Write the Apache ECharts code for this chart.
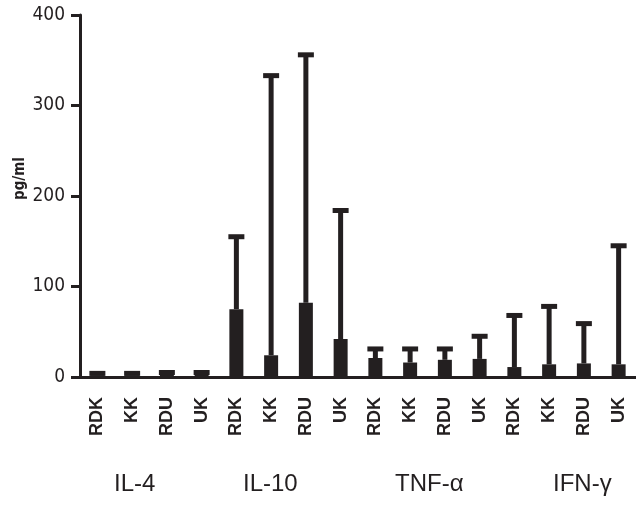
<!DOCTYPE html>
<html><head><meta charset="utf-8">
<script src="https://cdn.jsdelivr.net/npm/echarts@6/dist/echarts.min.js"></script>
<style>html,body{margin:0;padding:0;background:#fff}#c{width:636px;height:506px}</style>
</head><body><div id="c"></div>
<script>
const categories = ['RDK','KK','RDU','UK','RDK','KK','RDU','UK','RDK','KK','RDU','UK','RDK','KK','RDU','UK'];
const groups = ['IL-4','IL-10','TNF-\u03b1','IFN-\u03b3'];
const means = [2,2,3,3, 75,24,82,42, 21,16,19,20, 11,14,15,14];
const upper = [4,4,5,5, 155,333,356,184, 31,31,31,45, 68,78,59,145];
const yTicks = [0,100,200,300,400];
const yName = 'pg/ml';

const INK = '#231f20';
const narrow = "'Liberation Sans Narrow','DejaVu Sans Condensed','Liberation Sans',sans-serif";
const groupX = [114, 243, 395, 553];

const chart = echarts.init(document.getElementById('c'), null, {renderer:'canvas'});
chart.setOption({
  animation:false,
  backgroundColor:'#fff',
  grid:{left:80, top:15, width:557.6, height:362, containLabel:false},
  xAxis:{
    type:'category', data:categories,
    axisLine:{lineStyle:{color:INK, width:3}},
    axisTick:{alignWithLabel:true, length:10, lineStyle:{color:INK, width:3}},
    axisLabel:{rotate:90, margin:20, color:INK, fontWeight:'bold', fontSize:18,
      fontFamily:"'Liberation Sans',Arial,sans-serif", interval:0},
    splitLine:{show:false}
  },
  yAxis:{
    type:'value', min:yTicks[0], max:yTicks[yTicks.length-1], interval:yTicks[1]-yTicks[0],
    axisLine:{show:true, lineStyle:{color:INK, width:3}},
    axisTick:{show:true, length:9, lineStyle:{color:INK, width:3}},
    axisLabel:{margin:15, color:INK, fontSize:19, fontFamily:narrow},
    splitLine:{show:false}
  },
  series:[
    {type:'bar', data:means, barWidth:14, itemStyle:{color:INK}, z:2},
    {type:'custom', z:3,
      data:means.map((m,i)=>[i,m,upper[i]]),
      encode:{x:0, y:[1,2]},
      renderItem:function(params, api){
        const x = api.value(0);
        const p0 = api.coord([x, api.value(1)]);
        const p1 = api.coord([x, api.value(2)]);
        const half = 8;
        return {type:'group', children:[
          {type:'line', shape:{x1:p0[0], y1:p0[1], x2:p1[0], y2:p1[1]}, style:{stroke:INK, lineWidth:5}},
          {type:'line', shape:{x1:p1[0]-half, y1:p1[1], x2:p1[0]+half, y2:p1[1]}, style:{stroke:INK, lineWidth:5}}
        ]};
      }
    }
  ],
  graphic: groups.map((g,i)=>({
    type:'text', left:groupX[i], top:472,
    style:{text:g, fill:INK, font:"24px 'Liberation Sans',Arial,sans-serif"}
  })).concat([{
    type:'text', x:13, y:200, rotation:Math.PI/2,
    style:{text:yName, fill:INK, font:"bold 15px " + narrow, textAlign:'left', textVerticalAlign:'top'}
  }])
});
</script></body></html>
